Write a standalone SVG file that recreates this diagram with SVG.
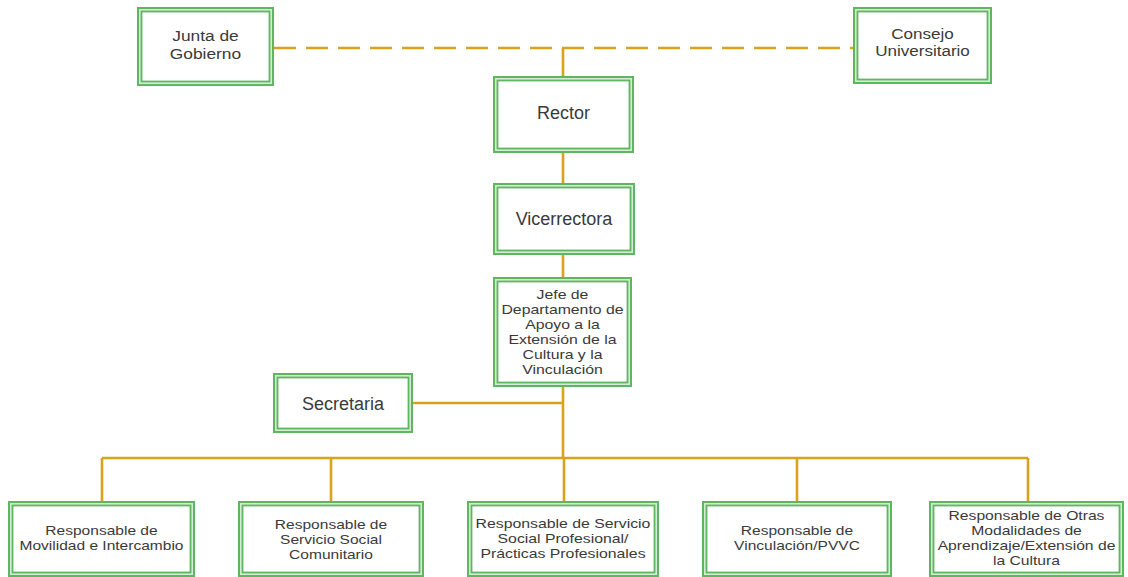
<svg xmlns="http://www.w3.org/2000/svg" width="1128" height="577" viewBox="0 0 1128 577">
  <style>
    .outer { fill: #d3ecd3; stroke: #5fb660; stroke-width: 2; }
    .inner { fill: #ffffff; stroke: #5fb660; stroke-width: 1.8; }
    .lbl { font-family: "Liberation Sans", Arial, sans-serif; fill: #3a3a3a; text-anchor: middle; }
    .big { font-size: 18px; }
    .mid { font-size: 15.5px; }
    .small { font-size: 13.4px; }
    .link { fill: none; stroke: #d9a21b; stroke-width: 2.6; }
    .dash { stroke-dasharray: 22 10; }
  </style>

  <!-- connectors -->
  <g id="connectors">
    <path class="link dash" d="M274 48 H853"/>
    <path class="link" d="M563 48 V76"/>
    <path class="link" d="M563 153 V183"/>
    <path class="link" d="M563 255 V277"/>
    <path class="link" d="M563 387 V458"/>
    <path class="link" d="M413 403 H563"/>
    <path class="link" d="M102 458 H1028"/>
    <path class="link" d="M102 458 V501"/>
    <path class="link" d="M331 458 V501"/>
    <path class="link" d="M564 458 V501"/>
    <path class="link" d="M797 458 V501"/>
    <path class="link" d="M1028 458 V501"/>
  </g>

  <g id="junta">
    <rect class="outer" x="138" y="8" width="135" height="77"/>
    <rect class="inner" x="141.5" y="11.5" width="128" height="70"/>
    <g transform="translate(205.5 0) scale(1.12 1) translate(-205.5 0)">
      <text class="lbl mid" x="205.5" y="41.4">Junta de</text>
      <text class="lbl mid" x="205.5" y="58.9">Gobierno</text>
    </g>
  </g>

  <g id="consejo">
    <rect class="outer" x="854" y="8" width="137" height="75"/>
    <rect class="inner" x="857.5" y="11.5" width="130" height="68"/>
    <g transform="translate(922.5 0) scale(1.1 1) translate(-922.5 0)">
      <text class="lbl mid" x="922.5" y="38.6">Consejo</text>
      <text class="lbl mid" x="922.5" y="56">Universitario</text>
    </g>
  </g>

  <g id="rector">
    <rect class="outer" x="494" y="77" width="139" height="75"/>
    <rect class="inner" x="497.5" y="80.5" width="132" height="68"/>
    <text class="lbl big" x="563.5" y="118.5">Rector</text>
  </g>

  <g id="vicerrectora">
    <rect class="outer" x="494" y="184" width="140" height="70"/>
    <rect class="inner" x="497.5" y="187.5" width="133" height="63"/>
    <text class="lbl big" x="564" y="224.5">Vicerrectora</text>
  </g>

  <g id="jefe">
    <rect class="outer" x="494" y="278" width="137" height="108"/>
    <rect class="inner" x="497.5" y="281.5" width="130" height="101"/>
    <g transform="translate(562.5 0) scale(1.18 1) translate(-562.5 0)">
      <text class="lbl small" x="562.5" y="298.7">Jefe de</text>
      <text class="lbl small" x="562.5" y="313.7">Departamento de</text>
      <text class="lbl small" x="562.5" y="328.7">Apoyo a la</text>
      <text class="lbl small" x="562.5" y="343.7">Extensión de la</text>
      <text class="lbl small" x="562.5" y="358.7">Cultura y la</text>
      <text class="lbl small" x="562.5" y="373.7">Vinculación</text>
    </g>
  </g>

  <g id="secretaria">
    <rect class="outer" x="274" y="374" width="138" height="58"/>
    <rect class="inner" x="277.5" y="377.5" width="131" height="51"/>
    <text class="lbl big" x="343" y="409.5">Secretaria</text>
  </g>

  <g id="movilidad">
    <rect class="outer" x="9" y="502" width="185" height="74"/>
    <rect class="inner" x="12.5" y="505.5" width="178" height="67"/>
    <g transform="translate(101.5 0) scale(1.16 1) translate(-101.5 0)">
      <text class="lbl small" x="101.5" y="535">Responsable de</text>
      <text class="lbl small" x="101.5" y="550">Movilidad e Intercambio</text>
    </g>
  </g>

  <g id="comunitario">
    <rect class="outer" x="239" y="502" width="184" height="74"/>
    <rect class="inner" x="242.5" y="505.5" width="177" height="67"/>
    <g transform="translate(331 0) scale(1.16 1) translate(-331 0)">
      <text class="lbl small" x="331" y="528.7">Responsable de</text>
      <text class="lbl small" x="331" y="543.7">Servicio Social</text>
      <text class="lbl small" x="331" y="558.7">Comunitario</text>
    </g>
  </g>

  <g id="profesional">
    <rect class="outer" x="468" y="502" width="190" height="74"/>
    <rect class="inner" x="471.5" y="505.5" width="183" height="67"/>
    <g transform="translate(563 0) scale(1.18 1) translate(-563 0)">
      <text class="lbl small" x="563" y="527.7">Responsable de Servicio</text>
      <text class="lbl small" x="563" y="542.7">Social Profesional/</text>
      <text class="lbl small" x="563" y="557.7">Prácticas Profesionales</text>
    </g>
  </g>

  <g id="vinculacion">
    <rect class="outer" x="703" y="502" width="188" height="74"/>
    <rect class="inner" x="706.5" y="505.5" width="181" height="67"/>
    <g transform="translate(797 0) scale(1.16 1) translate(-797 0)">
      <text class="lbl small" x="797" y="535">Responsable de</text>
      <text class="lbl small" x="797" y="550">Vinculación/PVVC</text>
    </g>
  </g>

  <g id="otras">
    <rect class="outer" x="930" y="502" width="193" height="74"/>
    <rect class="inner" x="933.5" y="505.5" width="186" height="67"/>
    <g transform="translate(1026.5 0) scale(1.17 1) translate(-1026.5 0)">
      <text class="lbl small" x="1026.5" y="520.5">Responsable de Otras</text>
      <text class="lbl small" x="1026.5" y="535.5">Modalidades de</text>
      <text class="lbl small" x="1026.5" y="550.5">Aprendizaje/Extensión de</text>
      <text class="lbl small" x="1026.5" y="565.5">la Cultura</text>
    </g>
  </g>
</svg>
